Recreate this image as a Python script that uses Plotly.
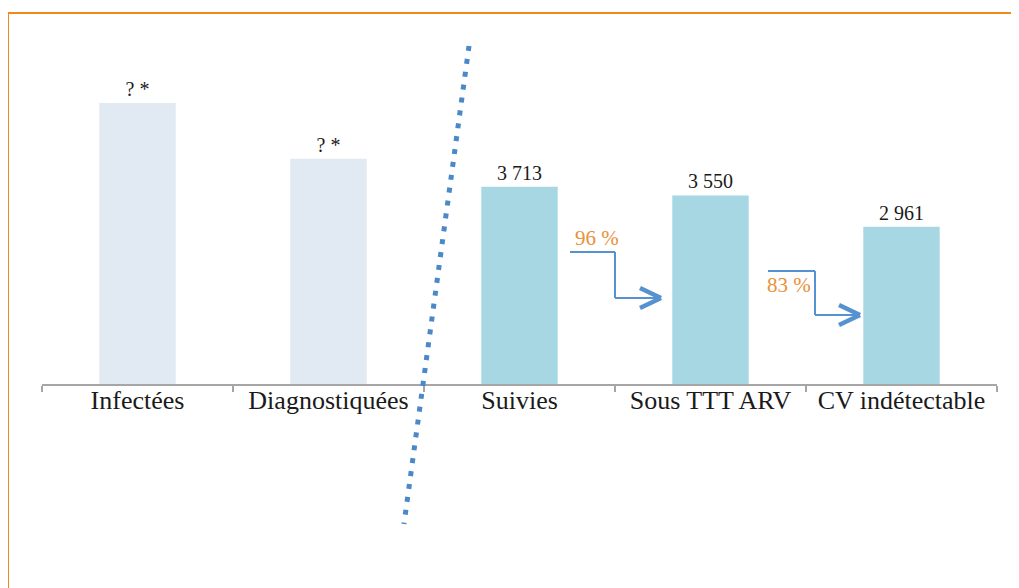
import plotly.graph_objects as go

# ---- data ----
categories = ["Infectées", "Diagnostiquées", "Suivies", "Sous TTT ARV", "CV indétectable"]
values = [5290, 4240, 3713, 3550, 2961]          # first two are unknown ("? *"), heights estimated
value_labels = ["? *", "? *", "3 713", "3 550", "2 961"]
bar_colors = ["#e1e9f2", "#e1e9f2", "#a6d7e3", "#a6d7e3", "#a6d7e3"]
pct_labels = ["96 %", "83 %"]

# ---- geometry (screen pixels; page body has an 8px offset) ----
OFF = 8
W, H = 1019, 588
PLOT_L, PLOT_R, PLOT_T, PLOT_B = 42, 997, 40, 384   # screen coords of plot area
ML = PLOT_L - OFF
MT = PLOT_T - OFF
MR = W - (PLOT_R - OFF)
MB = H - (PLOT_B - OFF)
YMAX = 6475
PW, PH = PLOT_R - PLOT_L, PLOT_B - PLOT_T

def px2x(px):   # screen pixel -> category index
    return (px - PLOT_L) / (PW / len(categories)) - 0.5

def py2y(py):   # screen pixel -> data y
    return (PLOT_B - py) * YMAX / PH

def px2paper(px):
    return (px - PLOT_L) / PW

def py2paper(py):
    return (PLOT_B - py) / PH

SERIF = "Liberation Serif, Times New Roman, serif"

fig = go.Figure(go.Bar(
    x=categories, y=values, width=0.4,
    marker=dict(color=bar_colors, line=dict(width=0)),
    text=value_labels, textposition="outside", cliponaxis=False,
    textfont=dict(family=SERIF, size=20, color="#1a1a1a"),
    hoverinfo="skip",
))

shapes = []
# orange frame
shapes.append(dict(type="line", xref="paper", yref="paper",
                   x0=px2paper(8), x1=px2paper(1060), y0=py2paper(13), y1=py2paper(13),
                   line=dict(color="#ef8a1a", width=2)))
shapes.append(dict(type="line", xref="paper", yref="paper",
                   x0=px2paper(8), x1=px2paper(8), y0=py2paper(13), y1=py2paper(640),
                   line=dict(color="#ef8a1a", width=2)))
# dotted separator
shapes.append(dict(type="line", xref="x", yref="paper",
                   x0=px2x(469), y0=py2paper(46), x1=px2x(404), y1=py2paper(524),
                   line=dict(color="#4a88c8", width=5, dash="5px,8px")))

ARROW = "#5592cf"
def elbow(x0, y0, xm, y1, xt):
    segs = [(x0, y0, xm, y0), (xm, y0, xm, y1), (xm, y1, xt - 2, y1)]
    for a, b, c, d in segs:
        shapes.append(dict(type="line", xref="x", yref="y",
                           x0=px2x(a), y0=py2y(b), x1=px2x(c), y1=py2y(d),
                           line=dict(color=ARROW, width=2)))
    for dy in (-10, 10):
        shapes.append(dict(type="line", xref="x", yref="y",
                           x0=px2x(xt - 21), y0=py2y(y1 + dy), x1=px2x(xt), y1=py2y(y1),
                           line=dict(color=ARROW, width=4.5)))

elbow(570, 252, 615, 298, 661)
elbow(768, 271, 815, 315, 860)

annotations = [
    dict(x=px2x(597), y=py2y(238), xref="x", yref="y", text=pct_labels[0], showarrow=False,
         font=dict(family=SERIF, size=21, color="#e8913a")),
    dict(x=px2x(789), y=py2y(285), xref="x", yref="y", text=pct_labels[1], showarrow=False,
         font=dict(family=SERIF, size=21, color="#e8913a")),
]

fig.update_layout(
    width=W, height=H,
    margin=dict(l=ML, r=MR, t=MT, b=MB),
    paper_bgcolor="white", plot_bgcolor="white",
    showlegend=False,
    shapes=shapes, annotations=annotations,
    xaxis=dict(type="category", range=[-0.5, 4.5], tickson="boundaries",
               ticks="outside", ticklen=6, tickwidth=1.5, tickcolor="#a6a6a6",
               ticklabelstandoff=-8,
               showline=True, linecolor="#a6a6a6", linewidth=1.5,
               showgrid=False, zeroline=False, fixedrange=True,
               tickfont=dict(family=SERIF, size=26, color="#1a1a1a")),
    yaxis=dict(range=[0, YMAX], visible=False, showgrid=False, zeroline=False, fixedrange=True),
)

fig.write_html("out.html")
